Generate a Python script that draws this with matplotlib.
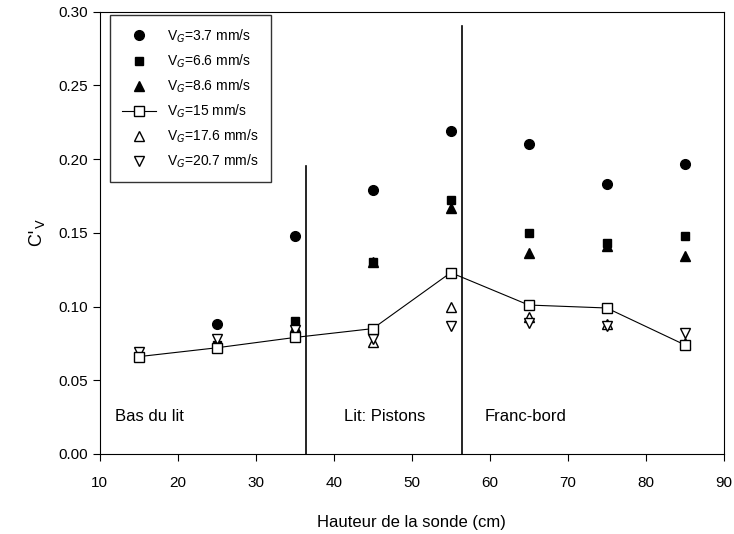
import numpy as np
import matplotlib
matplotlib.use('Agg')
import matplotlib.pyplot as plt

plt.rcParams['font.family'] = ['Liberation Sans', 'DejaVu Sans']

hauteur = [15, 25, 35, 45, 55, 65, 75, 85]

# filled series (values at 15 cm not visible in the figure)
h_fill = [25, 35, 45, 55, 65, 75, 85]
cv_37 = [0.088, 0.148, 0.179, 0.219, 0.210, 0.183, 0.197]
cv_66 = [0.074, 0.090, 0.130, 0.172, 0.150, 0.143, 0.148]
cv_86 = [0.073, 0.086, 0.130, 0.167, 0.136, 0.141, 0.134]

# open series
cv_15 = [0.066, 0.072, 0.079, 0.085, 0.123, 0.101, 0.099, 0.074]
cv_176 = [0.068, 0.075, 0.081, 0.076, 0.100, 0.093, 0.088, 0.075]
cv_207 = [0.069, 0.078, 0.084, 0.078, 0.087, 0.089, 0.087, 0.082]

zones = [(36.4, 0.1955), (56.4, 0.29)]
zone_labels = [(12, 'Bas du lit'), (41.3, 'Lit: Pistons'), (59.4, 'Franc-bord')]

fig = plt.figure(figsize=(7.34, 5.34), dpi=100)
ax = fig.add_axes([0.136, 0.15, 0.850, 0.828])

ms = 7
ax.plot(h_fill, cv_37, 'o', color='black', ms=ms, label=r'V$_G$=3.7 mm/s')
ax.plot(h_fill, cv_66, 's', color='black', ms=ms - 1, label=r'V$_G$=6.6 mm/s')
ax.plot(h_fill, cv_86, '^', color='black', ms=ms, label=r'V$_G$=8.6 mm/s')
ax.plot(hauteur, cv_176, '^', mfc='white', mec='black', mew=1, ms=ms,
        label=r'V$_G$=17.6 mm/s', zorder=3)
ax.plot(hauteur, cv_207, 'v', mfc='white', mec='black', mew=1, ms=ms,
        label=r'V$_G$=20.7 mm/s', zorder=3)
ax.plot(hauteur, cv_15, 's-', color='black', lw=0.8, mfc='white', mec='black',
        mew=1, ms=ms, label=r'V$_G$=15 mm/s', zorder=4)

for x, top in zones:
    ax.plot([x, x], [0, top], color='black', lw=1.2)

for x, txt in zone_labels:
    ax.text(x, 0.022, txt, fontsize=12)

ax.set_xlim(10, 90)
ax.set_ylim(0, 0.30)
ax.set_xticks(np.arange(10, 91, 10))
ax.set_yticks(np.arange(0, 0.301, 0.05))
ax.set_yticklabels([f'{v:.2f}' for v in np.arange(0, 0.301, 0.05)])
ax.tick_params(direction='out', labelsize=11, length=5)
ax.tick_params(axis='x', pad=11)
ax.set_xlabel('Hauteur de la sonde (cm)', fontsize=12, labelpad=18)
ax.set_ylabel(r"C$'_{\mathrm{V}}$", fontsize=13, labelpad=8)

handles, labels = ax.get_legend_handles_labels()
order = [0, 1, 2, 5, 3, 4]
leg = ax.legend([handles[i] for i in order], [labels[i] for i in order],
                loc='upper left', bbox_to_anchor=(0.016, 0.993),
                borderaxespad=0, fontsize=10,
                frameon=True, fancybox=False, edgecolor='black',
                handlelength=2.4, borderpad=0.9, labelspacing=0.55)
leg.get_frame().set_linewidth(1)

fig.savefig('out.png', dpi=100)
